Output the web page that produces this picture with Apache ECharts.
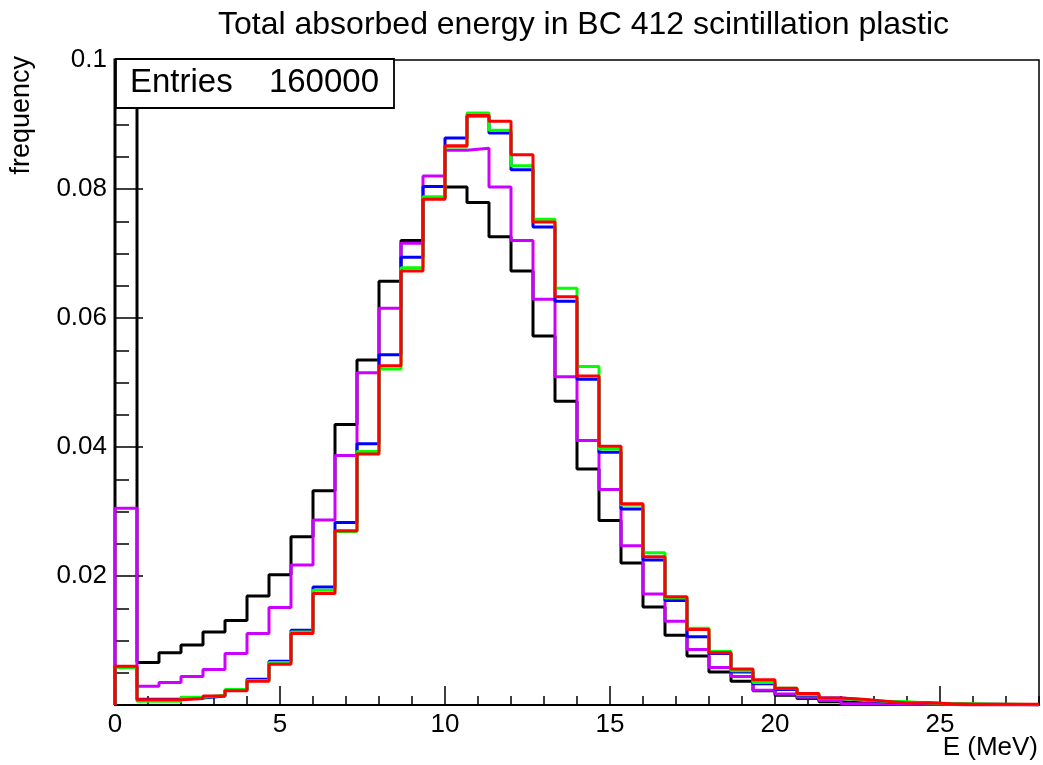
<!DOCTYPE html>
<html>
<head>
<meta charset="utf-8">
<script src="https://cdn.jsdelivr.net/npm/echarts@6/dist/echarts.min.js"></script>
<style>
  html, body { margin: 0; padding: 0; background: #ffffff; }
  #chart { width: 1043px; height: 765px; }
</style>
</head>
<body>
<div id="chart"></div>
<script>
// ---- Data ----
const X_MIN = 0;
const X_MAX = 28;
const N_BINS = 42;           // bin width 2/3 MeV
const xTickLabels = ['0', '5', '10', '15', '20', '25'];
const yTickLabels = ['0.02', '0.04', '0.06', '0.08', '0.1'];

const blackVals = [
  0.25, 0.0066, 0.0081, 0.0093, 0.0113, 0.0131, 0.0169, 0.0202, 0.0261, 0.0332,
  0.0435, 0.0535, 0.0657, 0.0720, 0.0786, 0.0803, 0.0779, 0.0726, 0.0673, 0.0572,
  0.0471, 0.0366, 0.0286, 0.0220, 0.0152, 0.0108, 0.0076, 0.0051, 0.0037, 0.0022,
  0.0015, 0.0010, 0.0005, 0.0003, 0.0002, 0.00015, 0.0001, 0.00008, 0.00005, 0.00004,
  0.00002, 0.00002
];
const magentaVals = [
  0.0305, 0.0029, 0.0035, 0.0044, 0.0055, 0.0080, 0.0111, 0.0151, 0.0217, 0.0287,
  0.0387, 0.0515, 0.0615, 0.0716, 0.0820, 0.0860, 0.0863, 0.0803, 0.0720, 0.0629,
  0.0509, 0.0410, 0.0334, 0.0247, 0.0172, 0.0130, 0.0086, 0.0058, 0.0044, 0.0023,
  0.0017, 0.0012, 0.0007, 0.0002, 0.0002, 0.0001, 0.0001, 0.00008, 0.00005, 0.00004,
  0.00003, 0.00002
];
const blueVals = [
  0.0059, 0.0009, 0.0009, 0.0011, 0.0014, 0.0023, 0.0040, 0.0068, 0.0116, 0.0183,
  0.0283, 0.0405, 0.0543, 0.0694, 0.0804, 0.0879, 0.0913, 0.0887, 0.0830, 0.0741,
  0.0626, 0.0505, 0.0392, 0.0304, 0.0225, 0.0162, 0.0106, 0.0080, 0.0051, 0.0033,
  0.0024, 0.0015, 0.0011, 0.0008, 0.0005, 0.0004, 0.0003, 0.0002, 0.0001, 0.0001,
  0.00008, 0.00005
];
const greenVals = [
  0.0058, 0.0006, 0.0006, 0.0012, 0.0015, 0.0024, 0.0038, 0.0066, 0.0113, 0.0178,
  0.0269, 0.0393, 0.0521, 0.0678, 0.0788, 0.0865, 0.0918, 0.0891, 0.0836, 0.0753,
  0.0646, 0.0525, 0.0397, 0.0310, 0.0236, 0.0166, 0.0119, 0.0083, 0.0053, 0.0035,
  0.0026, 0.0016, 0.0010, 0.0008, 0.0006, 0.0005, 0.0003, 0.0002, 0.0002, 0.0001,
  0.0001, 0.00005
];
const redVals = [
  0.0060, 0.0008, 0.0008, 0.0010, 0.0014, 0.0022, 0.0037, 0.0063, 0.0111, 0.0173,
  0.0270, 0.0389, 0.0526, 0.0673, 0.0784, 0.0867, 0.0914, 0.0905, 0.0853, 0.0749,
  0.0633, 0.0510, 0.0401, 0.0312, 0.0230, 0.0168, 0.0117, 0.0081, 0.0056, 0.0039,
  0.0026, 0.0018, 0.0011, 0.0009, 0.0006, 0.0003, 0.00035, 0.0002, 0.0001, 0.0001,
  0.0001, 0.0001
];
const entriesLabel = 'Entries';
const entriesValue = '160000';

// ---- Build histogram outlines ----
const binWidth = (X_MAX - X_MIN) / N_BINS;
function histPoints(vals) {
  const pts = [[X_MIN, 0]];
  for (let i = 0; i < vals.length; i++) {
    pts.push([X_MIN + i * binWidth, vals[i]]);
  }
  pts.push([X_MAX, vals[vals.length - 1]]);
  return pts;
}
function histSeries(vals, color, z) {
  return {
    type: 'line',
    step: 'end',
    data: histPoints(vals),
    xAxisIndex: 0,
    yAxisIndex: 0,
    symbol: 'none',
    clip: true,
    z: z,
    lineStyle: { color: color, width: 3 },
    animation: false
  };
}

const FONT = '"Liberation Sans", Arial, Helvetica, sans-serif';
const chart = echarts.init(document.getElementById('chart'), null, { renderer: 'canvas' });

const option = {
  backgroundColor: '#ffffff',
  animation: false,
  title: {
    text: 'Total absorbed energy in BC 412 scintillation plastic',
    left: 213,
    top: 4,
    textStyle: { fontFamily: FONT, fontSize: 32, fontWeight: 'normal', color: '#000' }
  },
  grid: {
    left: 115, right: 4, top: 60, bottom: 60,
    show: true, borderColor: '#000', borderWidth: 1.5, backgroundColor: 'transparent'
  },
  xAxis: [
    {
      type: 'value', min: X_MIN, max: X_MAX, interval: 5,
      axisLine: { show: true, onZero: false, lineStyle: { color: '#000', width: 2 } },
      axisTick: { show: true, inside: true, length: 19, lineStyle: { color: '#000', width: 1.5 } },
      axisLabel: {
        show: true, margin: 7, color: '#000', fontFamily: FONT, fontSize: 26,
        showMaxLabel: false,
        formatter: function (v) { const s = String(v); return xTickLabels.indexOf(s) >= 0 ? s : ''; }
      },
      splitLine: { show: false }
    },
    {
      type: 'value', min: X_MIN, max: X_MAX, interval: 1, position: 'bottom',
      axisLine: { show: false, onZero: false },
      axisTick: { show: true, inside: true, length: 9, lineStyle: { color: '#000', width: 1.5 } },
      axisLabel: { show: false },
      splitLine: { show: false }
    }
  ],
  yAxis: [
    {
      type: 'value', min: 0, max: 0.1, interval: 0.02,
      axisLine: { show: true, onZero: false, lineStyle: { color: '#000', width: 2 } },
      axisTick: { show: true, inside: true, length: 28, lineStyle: { color: '#000', width: 1.5 } },
      axisLabel: {
        show: true, margin: 8, color: '#000', fontFamily: FONT, fontSize: 26,
        showMinLabel: false,
        formatter: function (v) {
          const s = String(Math.round(v * 1000) / 1000);
          return yTickLabels.indexOf(s) >= 0 ? s : '';
        }
      },
      splitLine: { show: false }
    },
    {
      type: 'value', min: 0, max: 0.1, interval: 0.005, position: 'left',
      axisLine: { show: false, onZero: false },
      axisTick: { show: true, inside: true, length: 14, lineStyle: { color: '#000', width: 1.5 } },
      axisLabel: { show: false },
      splitLine: { show: false }
    }
  ],
  series: [
    histSeries(blackVals, '#000000', 2),
    histSeries(magentaVals, '#cc00ff', 3),
    histSeries(blueVals, '#0000ff', 4),
    histSeries(greenVals, '#00ff00', 5),
    histSeries(redVals, '#ff0000', 6)
  ],
  graphic: [
    {
      type: 'rect', z: 100,
      shape: { x: 116, y: 59, width: 278, height: 49 },
      style: { fill: '#ffffff', stroke: '#000', lineWidth: 1.8 }
    },
    {
      type: 'text', z: 101, left: 130, top: 66,
      style: { text: entriesLabel, fontFamily: FONT, fontSize: 33, fill: '#000' }
    },
    {
      type: 'text', z: 101, right: 1043 - 379, top: 66,
      style: { text: entriesValue, fontFamily: FONT, fontSize: 33, fill: '#000', textAlign: 'right' }
    },
    {
      type: 'text', z: 101, left: 8, top: 56, rotation: Math.PI / 2,
      style: { text: 'frequency', fontFamily: FONT, fontSize: 27, fill: '#000' }
    },
    {
      type: 'text', z: 101, right: 5, top: 735,
      style: { text: 'E (MeV)', fontFamily: FONT, fontSize: 26, fill: '#000' }
    }
  ]
};
chart.setOption(option);
</script>
</body>
</html>
